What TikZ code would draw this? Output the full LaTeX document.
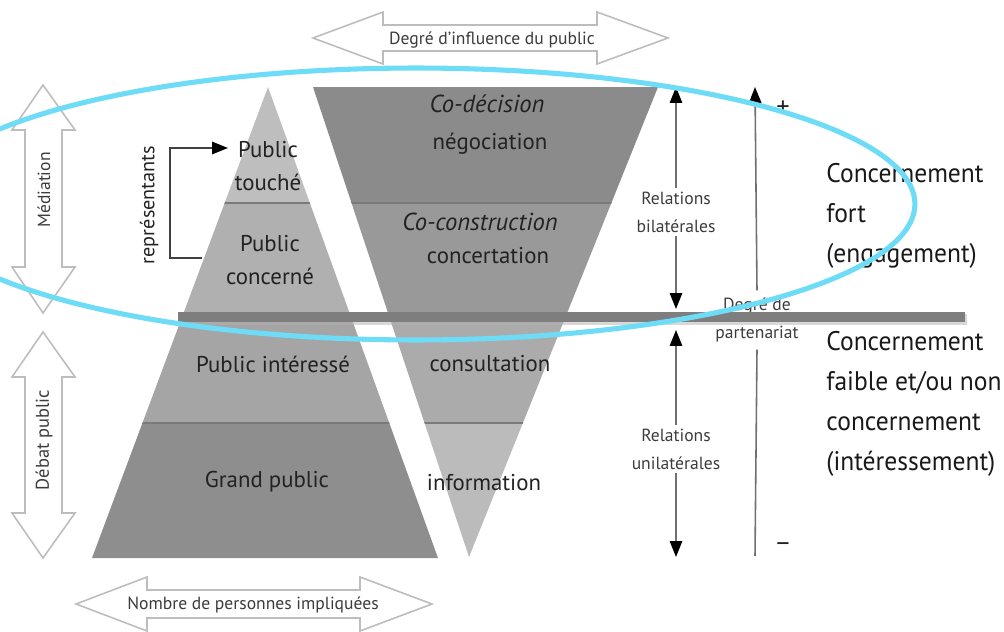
\documentclass[tikz,border=0pt]{standalone}
\usepackage{fontspec}
\setmainfont{PT Sans}
\newfontfamily\rcond[FakeStretch=0.95]{PT Sans}
\usetikzlibrary{arrows.meta}
\definecolor{outl}{HTML}{BDBDBD}
\definecolor{pA}{HTML}{BEBEBE}
\definecolor{pB}{HTML}{B0B0B0}
\definecolor{pC}{HTML}{A5A5A5}
\definecolor{pD}{HTML}{8E8E8E}
\definecolor{tA}{HTML}{8B8B8B}
\definecolor{tB}{HTML}{999999}
\definecolor{tC}{HTML}{ABABAB}
\definecolor{tD}{HTML}{BBBBBB}
\definecolor{barc}{HTML}{7E7E7E}
\definecolor{sepc}{HTML}{7A7A7A}
\definecolor{txt}{HTML}{222222}
\definecolor{stxt}{HTML}{3C3C3C}
\definecolor{linec}{HTML}{707070}
\definecolor{ell}{HTML}{6EDCF7}
\tikzset{
  outarrow/.style={draw=outl, line width=0.9pt, fill=white, line join=miter},
  lay/.style={font=\fontsize{13}{19}\selectfont, text=txt, align=center, inner sep=1pt},
  big/.style={font=\rcond\fontsize{15.3}{22.8}\selectfont, text=black!90, align=left, inner sep=0pt, anchor=west},
  small/.style={font=\fontsize{10}{16}\selectfont, text=stxt, align=center, inner sep=2pt},
  relarrow/.style={draw=linec, line width=0.9pt, -{Triangle[length=9pt,width=7pt,color=black]}},
  sep/.style={draw=sepc, line width=0.6pt}
}
\begin{document}
\begin{tikzpicture}[x=0.02cm, y=-0.02cm]
\useasboundingbox (0,0) rectangle (1004,632);
\clip (0,0) rectangle (1004,632);

% outline double arrows
\draw[outarrow] (313,38) -- (383,12) -- (383,25) -- (597,25) -- (597,12) -- (668,38) -- (597,64) -- (597,51) -- (383,51) -- (383,64) -- cycle;
\node[small, font=\fontsize{10}{12}\selectfont] (infl) at (492,40) {Degré d’influence du public};

\draw[outarrow] (76,604) -- (147,577) -- (147,590) -- (360,590) -- (360,577) -- (432,604) -- (360,631) -- (360,618) -- (147,618) -- (147,631) -- cycle;
\node[small, font=\fontsize{10}{12}\selectfont] (nomb) at (253,605) {Nombre de personnes impliquées};

\draw[outarrow] (43,85) -- (75,130) -- (62,130) -- (62,267) -- (75,267) -- (43,313) -- (12,267) -- (25,267) -- (25,130) -- (12,130) -- cycle;
\node[small, rotate=90, font=\fontsize{10}{12}\selectfont] (medi) at (44,190) {Médiation};

\draw[outarrow] (43,332) -- (75,377) -- (62,377) -- (62,513) -- (75,513) -- (43,558) -- (12,513) -- (25,513) -- (25,377) -- (12,377) -- cycle;
\node[small, rotate=90, font=\fontsize{10.5}{12}\selectfont] (debat) at (44,440) {Débat public};

% pyramid
\coordinate (pa) at (268,87);
\coordinate (pl) at (92,558);
\coordinate (pr) at (438,558);
\begin{scope}
\clip (pa) -- (pl) -- (pr) -- cycle;
\fill[pA] (0,80) rectangle (500,203);
\fill[pB] (0,203) rectangle (500,318);
\fill[pC] (0,318) rectangle (500,423);
\fill[pD] (0,423) rectangle (500,560);
\draw[sep] (0,203) -- (500,203);
\draw[sep] (0,423) -- (500,423);
\end{scope}

% inverted triangle
\coordinate (ta) at (313,87);
\coordinate (tb) at (658,87);
\coordinate (tc) at (469,557);
\begin{scope}
\clip (ta) -- (tb) -- (tc) -- cycle;
\fill[tA] (300,80) rectangle (700,203);
\fill[tB] (300,203) rectangle (700,318);
\fill[tC] (300,318) rectangle (700,423);
\fill[tD] (300,423) rectangle (700,560);
\draw[sep] (300,203) -- (700,203);
\draw[sep] (300,423) -- (700,423);
\end{scope}

% pyramid texts
\node[lay] (touche) at (268,166) {Public\\touché};
\node[lay] (concerne) at (270,260) {Public\\concerné};
\node[lay] (interesse) at (273,364) {Public intéressé};
\node[lay] (grand) at (267,482) {Grand public};

% trapezoid texts
\node[lay, font=\itshape\fontsize{14}{19}\selectfont] (codec) at (487,104) {Co-décision};
\node[lay] (nego) at (490,144) {négociation};
\node[lay, font=\itshape\fontsize{14}{19}\selectfont] (cocons) at (480,222) {Co-construction};
\node[lay] (concert) at (488,256) {concertation};
\node[lay] (consult) at (490,364) {consultation};
\node[lay] (info) at (484,483) {information};

% representants bracket
\coordinate (rtop) at (228,148);
\coordinate (rbot) at (202,258);
\draw[draw=black!75, line width=0.9pt, -{Triangle[length=9pt,width=7pt,color=black]}] (rbot) -- (170,258) -- (170,148) -- (rtop);
\node[small, rotate=90, font=\fontsize{11.5}{12}\selectfont, text=txt] (repr) at (149,205) {représentants};

% relations arrows
\node[small] (bil) at (676,212) {Relations\\bilatérales};
\coordinate (biltop) at (676,87);
\coordinate (bilbot) at (676,309);
\draw[relarrow] (bil.north) -- (biltop);
\draw[relarrow] (bil.south) -- (bilbot);

\node[small] (uni) at (676,449) {Relations\\unilatérales};
\coordinate (unitop) at (676,330);
\coordinate (unibot) at (676,557);
\draw[relarrow] (uni.north) -- (unitop);
\draw[relarrow] (uni.south) -- (unibot);

% degre de partenariat
\node[small, inner sep=4pt] (part) at (757,320) {Degré de\\partenariat};
\coordinate (ptop) at (755,87);
\coordinate (pbot) at (755,556);
\draw[relarrow] (part.north) -- (ptop);
\draw[draw=linec, line width=0.9pt] (part.south) -- (pbot);
\node[font=\fontsize{15}{15}\selectfont, text=txt] (plus) at (783,108) {+};
\node[font=\fontsize{15}{15}\selectfont, text=txt] (minus) at (783,548) {−};

% right texts
\node[big] (fort) at (826,216) {Concernement\\fort\\(engagement)};
\node[big] (faible) at (826,404) {Concernement\\faible et/ou non\\concernement\\(intéressement)};

% bar
\fill[black!30, opacity=0.5] (178,314) rectangle (967,325);
\fill[barc] (178,312) rectangle (965,322);

% ellipse
\draw[ell, line width=2.9pt] (416,204) ellipse [x radius=9.98cm, y radius=2.72cm];
\end{tikzpicture}
\end{document}
